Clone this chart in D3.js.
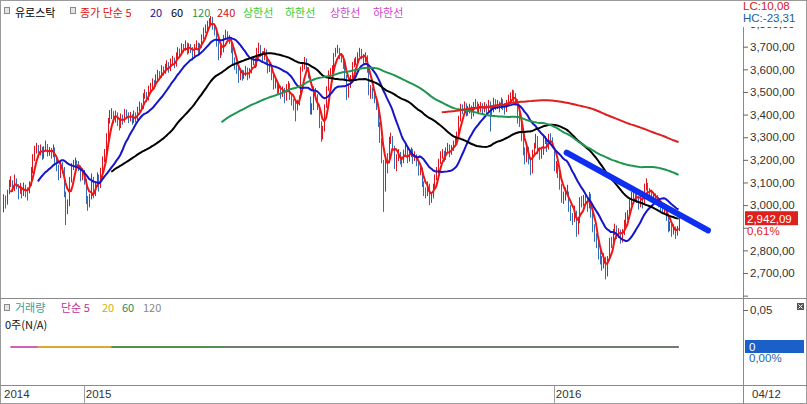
<!DOCTYPE html>
<html><head><meta charset="utf-8">
<script src="https://cdn.jsdelivr.net/npm/d3@7"></script>
<style>
html,body{margin:0;padding:0;background:#fff;}
svg{display:block;}
.num{font-family:"Liberation Sans",Arial,sans-serif;font-size:11.5px;}
.kr{font-family:"Noto Sans CJK KR","Noto Sans",sans-serif;font-size:11px;}
</style></head><body>
<svg id="c" width="807" height="404"></svg>
<script>
// ---- data (daily Euro Stoxx 50) ----
const close = [
3030,3010,3055,3090,3105,3070,3110,3085,3060,3075,
3050,3080,3065,3060,3090,3150,3200,3240,3250,3230,
3250,3215,3245,3260,3230,3240,3220,3250,3200,3170,
3130,3180,3160,3050,2980,3000,3110,3170,3180,3190,
3180,3170,3120,3140,3110,3020,3000,3030,3130,3045,
3090,3130,3080,3150,3200,3230,3300,3370,3400,3410,
3380,3400,3370,3350,3390,3370,3410,3400,3380,3395,
3370,3400,3380,3420,3440,3430,3480,3490,3470,3510,
3520,3540,3530,3560,3580,3570,3600,3590,3610,3620,
3600,3630,3640,3620,3660,3680,3670,3700,3690,3710,
3680,3700,3690,3660,3700,3710,3680,3700,3740,3770,
3780,3800,3810,3828,3790,3770,3720,3660,3690,3680,
3740,3760,3740,3730,3690,3640,3620,3600,3560,3590,
3570,3580,3600,3570,3590,3630,3640,3620,3680,3700,
3670,3650,3680,3640,3600,3610,3570,3530,3540,3510,
3520,3490,3510,3470,3520,3530,3480,3460,3440,3430,
3450,3470,3600,3610,3640,3600,3580,3424,3424,3510,
3480,3440,3360,3294,3330,3430,3510,3580,3590,3600,
3660,3680,3690,3660,3650,3620,3570,3480,3520,3560,
3620,3630,3640,3660,3680,3660,3640,3660,3600,3500,
3510,3490,3470,3440,3360,3290,3200,3060,3200,3190,
3290,3300,3260,3180,3210,3230,3200,3190,3230,3250,
3200,3220,3240,3200,3220,3190,3150,3160,3100,3060,
3050,3090,3020,3040,3080,3120,3150,3190,3220,3230,
3210,3240,3260,3230,3250,3270,3290,3310,3380,3430,
3420,3440,3410,3420,3430,3400,3440,3450,3420,3430,
3440,3420,3440,3420,3450,3430,3420,3460,3440,3450,
3430,3460,3440,3420,3450,3470,3480,3490,3470,3460,
3380,3370,3300,3240,3200,3250,3200,3140,3230,3260,
3300,3240,3220,3230,3290,3290,3250,3300,3290,3268,
3164,3178,3139,3084,3033,3033,3061,3064,2990,2952,
2935,2980,2885,2925,3020,3010,3030,3020,2990,3045,
2960,2900,2860,2830,2780,2760,2730,2770,2680,2760,
2840,2830,2880,2900,2870,2880,2850,2880,2920,2950,
2960,3010,3040,3060,3040,3030,3000,3040,3010,3080,
3090,3060,3050,3040,3040,3030,3020,3010,2990,2980,
2990,2950,2900,2910,2880,2900,2870,2890,2942.09];
const high = [
3048,3042,3068,3112,3128,3110,3135,3118,3092,3098,
3082,3100,3090,3078,3105,3168,3225,3262,3275,3265,
3268,3258,3260,3285,3270,3256,3252,3268,3255,3210,
3178,3195,3190,3168,3060,3025,3125,3185,3200,3210,
3198,3195,3175,3160,3155,3115,3040,3050,3140,3125,
3102,3145,3135,3165,3215,3248,3318,3385,3420,3428,
3415,3418,3410,3385,3405,3400,3425,3422,3410,3412,
3402,3418,3410,3435,3458,3452,3495,3512,3500,3528,
3540,3560,3552,3578,3598,3592,3618,3612,3625,3640,
3632,3648,3660,3652,3675,3698,3692,3715,3712,3728,
3718,3715,3712,3698,3712,3728,3718,3715,3755,3785,
3798,3815,3826,3836,3832,3800,3778,3725,3705,3702,
3752,3775,3768,3752,3738,3698,3652,3632,3610,3605,
3598,3595,3615,3608,3605,3645,3658,3650,3695,3718,
3708,3680,3695,3688,3650,3628,3618,3580,3558,3548,
3538,3528,3525,3518,3535,3548,3538,3490,3468,3455,
3465,3485,3612,3630,3655,3648,3610,3480,3450,3525,
3518,3490,3435,3370,3350,3445,3525,3595,3605,3618,
3672,3695,3708,3695,3672,3660,3625,3575,3535,3575,
3632,3648,3655,3675,3695,3690,3668,3675,3662,3605,
3530,3520,3500,3478,3445,3368,3295,3200,3215,3230,
3302,3320,3305,3262,3225,3248,3235,3215,3245,3268,
3258,3238,3255,3248,3238,3225,3195,3178,3165,3105,
3078,3105,3095,3058,3095,3135,3168,3205,3238,3248,
3240,3255,3275,3268,3265,3285,3305,3325,3395,3448,
3445,3458,3450,3438,3448,3440,3455,3468,3458,3448,
3455,3450,3455,3448,3465,3458,3440,3475,3468,3465,
3458,3475,3468,3450,3465,3488,3498,3510,3508,3495,
3468,3410,3380,3310,3255,3265,3258,3210,3245,3275,
3315,3305,3255,3248,3302,3305,3295,3315,3318,3300,
3250,3195,3185,3145,3095,3060,3078,3090,3060,3000,
2965,2998,2975,2940,3035,3040,3045,3048,3030,3058,
3050,2968,2915,2875,2840,2800,2775,2788,2772,2775,
2855,2860,2895,2918,2910,2898,2892,2895,2935,2968,
2978,3025,3058,3078,3075,3058,3040,3055,3052,3095,
3118,3098,3075,3068,3058,3052,3045,3035,3022,3005,
3008,3000,2958,2928,2920,2915,2905,2908,2950];
const low = [
2968,2985,3002,3048,3080,3058,3062,3070,3025,3050,
3030,3040,3035,3020,3052,3085,3140,3195,3228,3210,
3220,3200,3205,3238,3215,3218,3205,3212,3185,3150,
3110,3120,3140,3035,2912,2960,2995,3100,3155,3165,
3168,3150,3105,3110,3090,3005,2975,2990,3025,3030,
3040,3080,3060,3075,3140,3190,3225,3290,3360,3380,
3360,3365,3350,3330,3340,3355,3365,3385,3362,3370,
3355,3362,3365,3375,3412,3415,3425,3470,3455,3462,
3500,3512,3515,3522,3550,3555,3562,3572,3580,3598,
3585,3592,3618,3605,3612,3650,3655,3662,3675,3682,
3665,3670,3672,3640,3652,3688,3665,3672,3695,3732,
3760,3772,3790,3800,3775,3750,3700,3640,3650,3662,
3675,3730,3722,3712,3672,3620,3598,3580,3540,3552,
3550,3558,3570,3552,3560,3582,3618,3605,3612,3670,
3655,3632,3640,3625,3582,3588,3552,3510,3515,3490,
3495,3470,3478,3450,3462,3508,3465,3440,3418,3370,
3418,3440,3470,3590,3600,3585,3560,3400,3400,3420,
3465,3420,3340,3280,3290,3325,3430,3505,3565,3578,
3598,3655,3670,3645,3630,3602,3550,3465,3475,3518,
3555,3610,3618,3632,3655,3645,3625,3630,3585,3485,
3470,3470,3450,3420,3345,3275,3185,2970,3060,3140,
3185,3270,3245,3160,3150,3195,3180,3168,3185,3222,
3185,3192,3212,3182,3195,3172,3130,3132,3080,3040,
3030,3040,3000,3010,3030,3072,3110,3140,3182,3205,
3192,3200,3232,3212,3222,3240,3262,3280,3300,3370,
3402,3410,3392,3395,3405,3380,3392,3425,3402,3405,
3412,3400,3410,3400,3412,3325,3395,3410,3420,3425,
3410,3425,3420,3400,3412,3442,3460,3468,3452,3440,
3360,3345,3282,3220,3180,3190,3180,3132,3140,3220,
3250,3225,3200,3205,3222,3270,3235,3245,3270,3255,
3150,3140,3120,3068,3010,3005,3020,3040,2970,2930,
2912,2925,2860,2870,2920,2990,2995,3000,2970,2985,
2945,2880,2838,2810,2760,2738,2710,2720,2672,2685,
2758,2810,2822,2868,2850,2855,2830,2835,2868,2905,
2935,2950,2998,3025,3022,3010,2980,2990,2985,3000,
3065,3045,3030,3020,3020,3010,3000,2990,2970,2960,
2962,2930,2880,2885,2860,2870,2850,2865,2885];
const volume = close.map(() => 0);          // 0주 (N/A)
const maPeriods = [5, 20, 60, 120, 240];
const maColors  = ["#f01414", "#1616c8", "#000000", "#1e9650", "#e01e1e"];
const volMaPeriods = [5, 20, 60, 120];
const volMaColors  = ["#c0309a", "#e0bc10", "#2a8a5a", "#777777"];
const priceTicks = [2600,2700,2800,2900,3000,3100,3200,3300,3400,3500,3600,3700,3800];
const priceMinor = [2650,2750,2850,2950,3050,3150,3250,3350,3450,3550,3650,3750];
const yearIdx  = [0, 44, 300];
const yearText = ["2014", "2015", "2016"];
const lastDate = "04/12";
const trendIdx = [307, 384];
const trendVal = [3232, 2888];
const lcText = "LC:10,08", hcText = "HC:-23,31", chgText = "0,61%";

// ---- drawing ----
const svg = d3.select("#c");
const N = close.length;
const x = d3.scaleLinear().domain([0, N - 1]).range([3, 678.6]);
const y = d3.scaleLinear().domain([2700, 3700]).range([273, 46.7]);
const yv = d3.scaleLinear().domain([0, 0.05]).range([347, 310]);
const fmt = v => d3.format(",.2f")(v).replace(/\.(\d\d)$/, ",$1");
const yc = y(close[N - 1]);

function sma(arr, p) {
  const out = []; let s = 0;
  for (let i = 0; i < arr.length; i++) {
    s += arr[i]; if (i >= p) s -= arr[i - p];
    if (i >= p - 1) out.push([i, s / p]);
  }
  return out;
}

const defs = svg.append("defs");
defs.append("clipPath").attr("id", "axclip").append("rect")
  .attr("x", 0).attr("y", 27).attr("width", 807).attr("height", 272);

// frame
svg.append("rect").attr("x", 0.5).attr("y", 0.5).attr("width", 806).attr("height", 403)
  .attr("fill", "#fff").attr("stroke", "#9a9a9a");
svg.append("line").attr("x1", 0).attr("x2", 807).attr("y1", 298.5).attr("y2", 298.5).attr("stroke", "#8a8a8a");
svg.append("line").attr("x1", 0).attr("x2", 807).attr("y1", 385.5).attr("y2", 385.5).attr("stroke", "#8a8a8a");
svg.append("line").attr("x1", 743.5).attr("x2", 743.5).attr("y1", 27).attr("y2", 404).attr("stroke", "#8a8a8a");

// price bars
const bars = svg.append("g");
bars.selectAll("line").data(close).join("line")
  .attr("x1", (d, i) => Math.round(x(i)) + 0.5).attr("x2", (d, i) => Math.round(x(i)) + 0.5)
  .attr("y1", (d, i) => y(high[i])).attr("y2", (d, i) => y(low[i]))
  .attr("stroke", (d, i) => (i === 0 || d >= close[i - 1]) ? "#e0141e" : "#2f6db8")
  .attr("stroke-width", 1);

// moving averages
const line = d3.line().x(d => x(d[0])).y(d => y(d[1]));
maPeriods.forEach((p, k) => {
  svg.append("path").datum(sma(close, p)).attr("d", line)
    .attr("fill", "none").attr("stroke", maColors[k]).attr("stroke-width", 2)
    .attr("stroke-linejoin", "round");
});

// trend line
svg.append("line")
  .attr("x1", x(trendIdx[0])).attr("y1", y(trendVal[0]))
  .attr("x2", x(trendIdx[1])).attr("y2", y(trendVal[1]))
  .attr("stroke", "#0f2ff0").attr("stroke-width", 6).attr("stroke-linecap", "round");

// right price axis (labels hidden where the last-price box sits, as in the source)
const ax = svg.append("g").attr("transform", "translate(743,0)").attr("class", "num")
  .attr("clip-path", "url(#axclip)");
ax.call(d3.axisRight(y).tickValues(priceMinor).tickSize(3).tickFormat(""));
ax.call(d3.axisRight(y).tickValues(priceTicks).tickSize(5).tickPadding(2)
  .tickFormat(v => (v >= 2700 && Math.abs(y(v) - yc) > 13) ? fmt(v) : ""));
ax.selectAll(".domain").remove();
ax.selectAll("line").attr("stroke", "#666");
ax.selectAll("text").attr("fill", "#333").attr("font-size", "11.5px")
  .attr("font-family", "Liberation Sans, Arial, sans-serif");

// LC / HC
svg.append("text").attr("class", "num").attr("x", 743).attr("y", 10).attr("fill", "#d42020").text(lcText);
svg.append("text").attr("class", "num").attr("x", 743).attr("y", 22).attr("fill", "#2060a0").text(hcText);

// last price box
svg.append("rect").attr("x", 745).attr("y", yc - 7).attr("width", 53).attr("height", 14).attr("fill", "#e0201c");
svg.append("text").attr("class", "num").attr("x", 747).attr("y", yc + 4.5).attr("fill", "#fff").text(fmt(close[N - 1]));
svg.append("text").attr("class", "num").attr("x", 747).attr("y", yc + 17).attr("fill", "#e0201c").text(chgText);

// main legend
const leg = svg.append("g").attr("class", "kr");
function icon(g, x0, y0) {
  g.append("rect").attr("x", x0 + 0.5).attr("y", y0 + 0.5).attr("width", 5).attr("height", 6)
    .attr("fill", "#e4e4e4").attr("stroke", "#8a8a8a");
}
icon(svg, 4, 7); icon(svg, 70, 7);
const legItems = [
  [15, "유로스탁", "#000"], [80, "종가 단순 5", "#e01010"], [150, "20", "#10109a"],
  [171, "60", "#000"], [192, "120", "#1a9a50"], [217, "240", "#d01010"],
  [243, "상한선", "#33cc33"], [285, "하한선", "#33cc33"], [330, "상한선", "#cc44cc"], [373, "하한선", "#cc44cc"]];
legItems.forEach(([lx, t, c]) => leg.append("text").attr("x", lx).attr("y", 17).attr("fill", c).text(t));

// volume panel
const vg = svg.append("g");
volMaPeriods.forEach((p, k) => {
  vg.append("path").datum(sma(volume, p))
    .attr("d", d3.line().x(d => x(d[0])).y(d => yv(d[1])))
    .attr("fill", "none").attr("stroke", volMaColors[k]).attr("stroke-width", 1.5);
});
icon(svg, 4, 304);
const vLeg = [[15, "거래량", "#3a9c9c"], [61, "단순 5", "#c0309a"], [102, "20", "#d8b000"],
  [122, "60", "#2a8a5a"], [143, "120", "#888"]];
vLeg.forEach(([lx, t, c]) => svg.append("text").attr("class", "kr").attr("x", lx).attr("y", 312).attr("fill", c).text(t));
svg.append("text").attr("class", "kr").attr("x", 5).attr("y", 328.5).attr("fill", "#111").text("0주(N/A)");

const vax = svg.append("g").attr("transform", "translate(743,0)");
vax.call(d3.axisRight(yv).tickValues([0.05, 0.0375, 0.025, 0.0125, 0, -0.0125, -0.025, -0.0375]).tickSize(3).tickFormat(""));
vax.call(d3.axisRight(yv).tickValues([0.05]).tickSize(5).tickPadding(2).tickFormat(v => fmt(v)));
vax.selectAll(".domain").remove();
vax.selectAll("line").attr("stroke", "#666");
vax.selectAll("text").attr("fill", "#333").attr("font-size", "11.5px").attr("font-family", "Liberation Sans, Arial, sans-serif");
svg.append("rect").attr("x", 745).attr("y", yv(0) - 7).attr("width", 59).attr("height", 13).attr("fill", "#1a60c8");
svg.append("text").attr("class", "num").attr("x", 749).attr("y", yv(0) + 4).attr("fill", "#fff").text("0");
svg.append("text").attr("class", "num").attr("x", 749).attr("y", yv(0) + 15).attr("fill", "#2565a5").text("0,00%");
// close icon
svg.append("rect").attr("x", 797).attr("y", 303).attr("width", 7).attr("height", 7).attr("fill", "#555");
svg.append("path").attr("d", "M798.5,304.5L802.5,308.5M802.5,304.5L798.5,308.5").attr("stroke", "#fff").attr("stroke-width", 1);

// bottom date axis
yearIdx.forEach((i, k) => {
  if (i > 0) svg.append("line").attr("x1", Math.round(x(i)) + 0.5).attr("x2", Math.round(x(i)) + 0.5)
    .attr("y1", 386).attr("y2", 404).attr("stroke", "#a0a0a0");
  svg.append("text").attr("class", "num").attr("x", i > 0 ? x(i) + 2 : 4).attr("y", 398)
    .attr("fill", "#333").text(yearText[k]);
});
svg.append("text").attr("class", "num").attr("x", 752).attr("y", 398).attr("fill", "#333").text(lastDate);
</script>
</body></html>
